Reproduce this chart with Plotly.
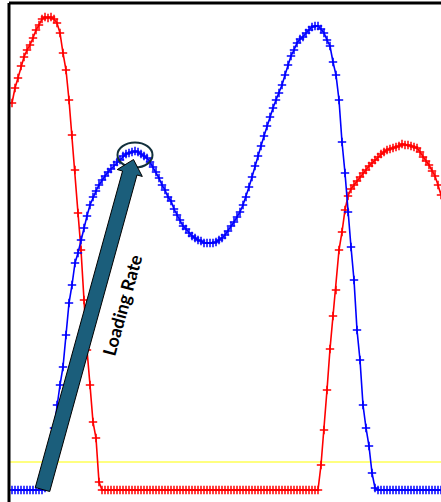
import math
import plotly.graph_objects as go

# ---- data (sample index vs. force, arbitrary units) ----
blue_force = [0, 0, 0, 0, 0, 0, 0, 0, 0, 0, 0,
              2, 20, 40, 62, 85, 105, 123, 155, 187, 205,
              227, 237, 250, 262, 274, 285, 293, 299, 305, 310,
              314, 318, 321, 325, 328, 330, 334, 336, 337, 338,
              339, 338, 336, 334, 332, 328, 323, 318, 312, 305,
              300, 293, 289, 281, 275, 270, 264, 261, 257, 254,
              252, 250, 249, 247, 247, 247, 247, 248, 250, 252,
              255, 259, 264, 268, 273, 278, 285, 293, 303, 313,
              324, 334, 344, 354, 364, 373, 382, 390, 397, 405,
              415, 425, 434, 440, 447, 451, 453, 457, 460, 463,
              464, 464, 461, 457, 450, 444, 428, 415, 390, 348,
              317, 278, 243, 210, 160, 130, 85, 62, 44, 17,
              2,
              0, 0, 0, 0, 0, 0, 0, 0, 0, 0, 0,
              0, 0, 0, 0, 0, 0, 0, 0, 0, 0, 0]

red_force = [387, 402, 412, 424, 433, 440, 445, 452, 460, 465,
             471, 473, 472, 473, 471, 467, 457, 437, 420, 390,
             355, 320, 277, 240, 190, 140, 105, 68, 52, 8,
             0, 0, 0, 0, 0, 0, 0, 0, 0, 0, 0, 0, 0, 0, 0, 0, 0, 0, 0, 0,
             0, 0, 0, 0, 0, 0, 0, 0, 0, 0, 0, 0, 0, 0, 0, 0, 0, 0, 0, 0,
             0, 0, 0, 0, 0, 0, 0, 0, 0, 0, 0, 0, 0, 0, 0, 0, 0, 0, 0, 0,
             0, 0, 0, 0, 0, 0, 0, 0, 0, 0, 0, 0, 0,
             25, 60, 100, 141, 174, 200, 240, 258, 280, 294,
             301, 305, 309, 313, 317, 320, 324, 327, 330, 333,
             336, 338, 340, 341, 342, 343, 344, 346, 345, 345,
             344, 343, 342, 338, 333, 329, 325, 319, 314, 305,
             295]

threshold = [28]
annotation_text = ["Loading Rate"]

samples = list(range(len(blue_force)))

# ---- layout geometry ----
W, H = 441, 502
ML, MT = 9, 3
X_RANGE = [-1, 143]
Y_RANGE = [-12, 487]
px_per_x = (W - ML) / (X_RANGE[1] - X_RANGE[0])
px_per_y = (H - MT) / (Y_RANGE[1] - Y_RANGE[0])


def to_px(x, y):
    return (ML + (x - X_RANGE[0]) * px_per_x, MT + (Y_RANGE[1] - y) * px_per_y)


def to_data(px, py):
    return (X_RANGE[0] + (px - ML) / px_per_x, Y_RANGE[1] - (py - MT) / px_per_y)


fig = go.Figure()

fig.add_trace(go.Scatter(
    x=samples, y=red_force, mode="lines+markers",
    line=dict(color="#ff0000", width=1.6),
    marker=dict(symbol="cross-thin", size=6, line=dict(color="#ff0000", width=1.5)),
    showlegend=False, hoverinfo="skip"))

fig.add_trace(go.Scatter(
    x=samples, y=blue_force, mode="lines+markers",
    line=dict(color="#0000ff", width=1.6),
    marker=dict(symbol="cross-thin", size=6, line=dict(color="#0000ff", width=1.5)),
    showlegend=False, hoverinfo="skip"))

shapes = []
# threshold line
shapes.append(dict(type="line", xref="paper", yref="y", x0=0, x1=1,
                   y0=threshold[0], y1=threshold[0],
                   line=dict(color="#ffff00", width=1), layer="below"))

# ellipse around first blue peak
peak_i = max(range(0, 60), key=lambda k: blue_force[k])
cx, cy = to_px(samples[peak_i], blue_force[peak_i])
cy += 4
rx, ry = 17.5, 12.5
x0, y0 = to_data(cx - rx, cy + ry)
x1, y1 = to_data(cx + rx, cy - ry)
shapes.append(dict(type="circle", xref="x", yref="y", x0=x0, x1=x1, y0=y0, y1=y1,
                   line=dict(color="#12303c", width=2), layer="above"))

# arrow (pixel geometry converted to data coordinates)
tip = (cx - 1.5, cy + 4.5)
base = (42.5, 489.5)
dx, dy = tip[0] - base[0], tip[1] - base[1]
L = math.hypot(dx, dy)
u = (dx / L, dy / L)
n = (-u[1], u[0])
hw, hhw, hl = 7.5, 13.0, 14.0
hb = (tip[0] - hl * u[0], tip[1] - hl * u[1])
pts = [
    (base[0] + hw * n[0], base[1] + hw * n[1]),
    (hb[0] + hw * n[0], hb[1] + hw * n[1]),
    (hb[0] + hhw * n[0], hb[1] + hhw * n[1]),
    tip,
    (hb[0] - hhw * n[0], hb[1] - hhw * n[1]),
    (hb[0] - hw * n[0], hb[1] - hw * n[1]),
    (base[0] - hw * n[0], base[1] - hw * n[1]),
]
dpts = [to_data(*p) for p in pts]
path = "M " + " L ".join(f"{a:.3f},{b:.3f}" for a, b in dpts) + " Z"
shapes.append(dict(type="path", xref="x", yref="y", path=path,
                   fillcolor="#1b5e7b", line=dict(color="#000000", width=1), layer="above"))

# frame lines (left and top)
shapes.append(dict(type="line", xref="paper", yref="paper", x0=0, x1=0, y0=0, y1=1,
                   line=dict(color="black", width=3), layer="above"))
shapes.append(dict(type="line", xref="paper", yref="paper", x0=0, x1=1, y0=1, y1=1,
                   line=dict(color="black", width=3), layer="above"))

tx, ty = to_data(122, 305)
angle = math.degrees(math.atan2(dy, dx))

fig.update_layout(
    width=W, height=H,
    margin=dict(l=ML, r=0, t=MT, b=0),
    paper_bgcolor="white", plot_bgcolor="white",
    xaxis=dict(range=X_RANGE, visible=False, showgrid=False, zeroline=False, fixedrange=True),
    yaxis=dict(range=Y_RANGE, visible=False, showgrid=False, zeroline=False, fixedrange=True),
    shapes=shapes,
    annotations=[dict(x=tx, y=ty, xref="x", yref="y", text="<b>" + annotation_text[0] + "</b>",
                      showarrow=False, textangle=angle,
                      font=dict(family="Lato, Open Sans, sans-serif", size=18, color="black"))],
)

fig.write_html("out.html", config={"displayModeBar": False},
               post_script="document.body.style.margin='0';document.body.style.overflow='hidden';")
